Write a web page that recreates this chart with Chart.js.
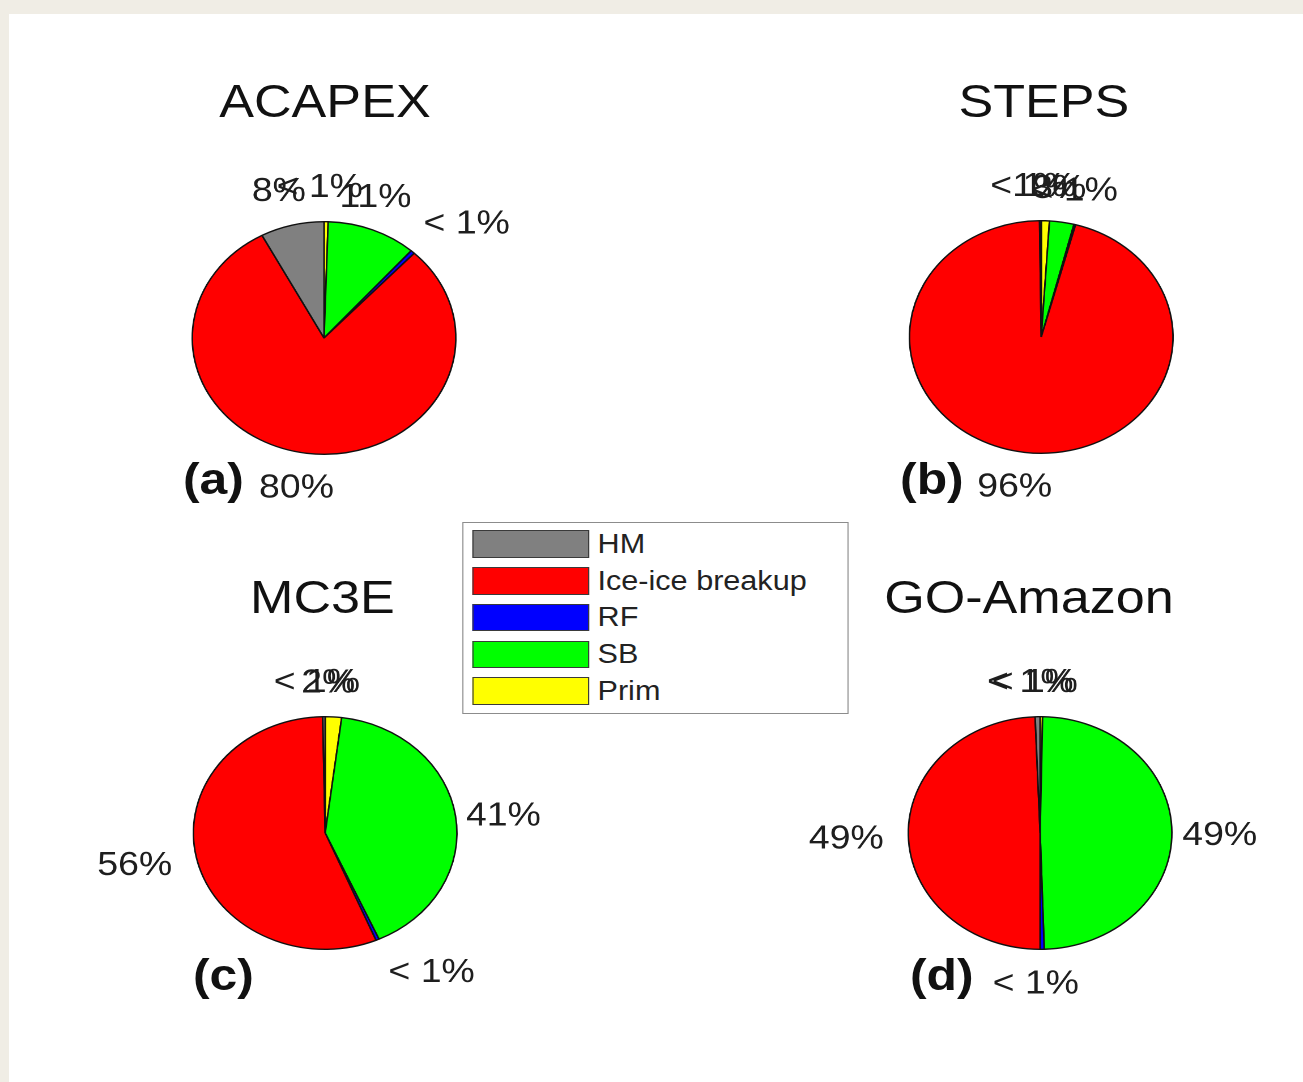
<!DOCTYPE html>
<html>
<head>
<meta charset="utf-8">
<title>Ice multiplication mechanisms by campaign</title>
<script src="https://cdn.jsdelivr.net/npm/chart.js@4.4.1/dist/chart.umd.min.js"></script>
<style>
  html, body { margin: 0; padding: 0; width: 1303px; height: 1082px; overflow: hidden; background: #f0ede5; }
  #sheet { position: absolute; left: 9px; top: 14px; right: 0; bottom: 0; background: #ffffff; }
  /* the figure is laid out with round pies, then widened as a whole */
  #fig { position: absolute; left: 0; top: 0; width: 1150px; height: 1082px;
         transform: scaleX(1.133); transform-origin: 0 0;
         font-family: "Liberation Sans", Arial, sans-serif; }
  .pie { position: absolute; }
  .txt { position: absolute; white-space: nowrap; line-height: 1; color: #111; }
  #legend { position: absolute; left: 408.4px; top: 521.7px; width: 340.3px; height: 192.3px;
            box-sizing: border-box; border: 1.5px solid #8c8c8c; background: #fff; }
  .swatch { position: absolute; box-sizing: border-box; border: 1.5px solid #3a3a3a; }
</style>
</head>
<body>
<div id="sheet"></div>
<div id="fig">
  <div id="legend"></div>
</div>
<script>
// Mechanism categories and their slice colours
const categories = ['HM', 'Ice-ice breakup', 'RF', 'SB', 'Prim'];
const sliceColors = ['#808080', '#ff0000', '#0000ff', '#00ff00', '#ffff00'];

// Campaign names and panel tags
const campaigns = ['ACAPEX', 'STEPS', 'MC3E', 'GO-Amazon'];
const panelTags = ['(a)', '(b)', '(c)', '(d)'];

// Percentage contribution of each mechanism (order follows categories)
const acapexShares   = [7.8, 80.2, 0.5, 11.0, 0.5];
const stepsShares    = [0.2, 95.6, 0.2, 3.0, 1.0];
const mc3eShares     = [0.3, 56.0, 0.4, 41.3, 2.0];
const goAmazonShares = [0.6, 49.4, 0.5, 49.2, 0.3];

const allShares = [acapexShares, stepsShares, mc3eShares, goAmazonShares];

// Panel placement (figure units, before the horizontal widening)
const layout = [
  { cx: 286.4, cy: 337.5, titleX: 286.8, titleBase: 116.7, tagX: 161.5, tagBase: 494 },
  { cx: 918.8, cy: 336.5, titleX: 921.4, titleBase: 116.7, tagX: 794.4, tagBase: 494 },
  { cx: 286.6, cy: 833.0, titleX: 284.6, titleBase: 612.7, tagX: 170.3, tagBase: 990 },
  { cx: 918.4, cy: 833.0, titleX: 908.2, titleBase: 612.7, tagX: 803.2, tagBase: 990 }
];

const FONT = '"Liberation Sans", Arial, sans-serif';
const fig = document.getElementById('fig');

function placeText(text, x, baseline, size, weight, center, color) {
  const d = document.createElement('div');
  d.className = 'txt';
  d.textContent = text;
  d.style.fontSize = size + 'px';
  d.style.fontWeight = weight;
  d.style.left = x + 'px';
  d.style.top = (baseline - 0.8465 * size) + 'px';
  if (center) d.style.transform = 'translateX(-50%)';
  if (color) d.style.color = color;
  fig.appendChild(d);
  return d;
}

function percentText(v) {
  return v < 1 ? '< 1%' : Math.round(v) + '%';
}

// Percent labels anchored at 1.2 radii along each slice's mid-angle.
// Near-vertical labels are centred, others hang away from the pie;
// near-horizontal labels sit level with the anchor, others above/below it.
const NEAR = Math.sin(Math.PI / 8);
const shareLabels = {
  id: 'shareLabels',
  afterDatasetsDraw(chart) {
    const ctx = chart.ctx;
    const meta = chart.getDatasetMeta(0);
    const data = chart.data.datasets[0].data;
    const total = data.reduce((a, b) => a + b, 0);
    ctx.save();
    ctx.font = '33px ' + FONT;
    ctx.fillStyle = '#1e1e1e';
    ctx.textAlign = 'left';
    ctx.textBaseline = 'middle';
    for (let i = meta.data.length - 1; i >= 0; i--) {
      const arc = meta.data[i];
      const p = arc.getProps(['x', 'y', 'startAngle', 'endAngle', 'outerRadius'], true);
      const m = (p.startAngle + p.endAngle) / 2;
      const c = Math.cos(m), s = Math.sin(m);
      const t = percentText(data[i] / total * 100);
      const w = ctx.measureText(t).width;
      const ax = p.x + 1.2 * p.outerRadius * c;
      const ay = p.y + 1.2 * p.outerRadius * s;
      let left;
      if (Math.abs(c) < NEAR) left = ax - 6 - w / 2;
      else if (c > 0) left = ax + 10 - 24 * c;
      else left = ax + 1.5 - w;
      let mid;
      if (Math.abs(s) < NEAR) mid = ay + 2;
      else if (s > 0) mid = ay + 10;
      else mid = ay - 12.5;
      ctx.fillText(t, left, mid + 2);
    }
    ctx.restore();
  }
};

const CW = 460, CH = 360, R2 = 234;

allShares.forEach((shares, k) => {
  const L = layout[k];
  const canvas = document.createElement('canvas');
  canvas.className = 'pie';
  canvas.width = CW;
  canvas.height = CH;
  canvas.style.left = (L.cx - CW / 2) + 'px';
  canvas.style.top = (L.cy - CH / 2) + 'px';
  fig.appendChild(canvas);

  // slices run counter-clockwise from the top in category order
  const order = categories.map((_, i) => i).reverse();

  new Chart(canvas, {
    type: 'pie',
    data: {
      labels: order.map(i => categories[i]),
      datasets: [{
        data: order.map(i => shares[i]),
        backgroundColor: order.map(i => sliceColors[i]),
        borderColor: '#111',
        borderWidth: 1.4
      }]
    },
    options: {
      responsive: false,
      animation: false,
      devicePixelRatio: 2,
      rotation: 0,
      layout: { padding: { left: (CW - R2) / 2, right: (CW - R2) / 2, top: (CH - R2) / 2, bottom: (CH - R2) / 2 } },
      plugins: { legend: { display: false }, tooltip: { enabled: false } },
      events: []
    },
    plugins: [shareLabels]
  });

  placeText(campaigns[k], L.titleX, L.titleBase, 46, 'normal', true, '#111');
  placeText(panelTags[k], L.tagX, L.tagBase, 44, 'bold', false, '#111');
});

// Legend box
const legend = document.getElementById('legend');
categories.forEach((name, i) => {
  const rowC = 22.8 + i * 36.8;
  const sw = document.createElement('div');
  sw.className = 'swatch';
  sw.style.left = '7.8px';
  sw.style.top = (rowC - 13.8 - 1.5) + 'px';
  sw.style.width = '102.4px';
  sw.style.height = '27.6px';
  sw.style.background = sliceColors[i];
  legend.appendChild(sw);
  const t = document.createElement('div');
  t.className = 'txt';
  t.textContent = name;
  t.style.fontSize = '27px';
  t.style.color = '#222';
  t.style.left = '118px';
  t.style.top = (rowC - 1.5 + 0.358 * 27 - 0.8465 * 27) + 'px';
  legend.appendChild(t);
});
</script>
</body>
</html>
